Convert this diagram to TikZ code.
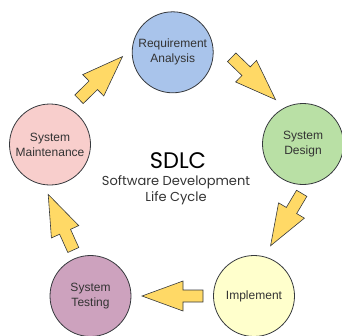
\documentclass[tikz,border=0pt]{standalone}
\usepackage{fontspec}
\setmainfont{Liberation Sans}
\newfontfamily\titlefont{Poppins}

\definecolor{reqblue}{HTML}{A9C4EB}
\definecolor{desgreen}{HTML}{B9E0A5}
\definecolor{impyellow}{HTML}{FFFFCC}
\definecolor{testpurple}{HTML}{CDA2BE}
\definecolor{maintpink}{HTML}{F8CECC}
\definecolor{arrowfill}{HTML}{FFD966}
\definecolor{edge}{HTML}{36393D}

\tikzset{phase/.style={circle, draw=edge, line width=0.8pt, minimum size=81pt, inner sep=0pt, align=center, font=\fontsize{12}{15}\selectfont, text=black!80}}
\tikzset{fatarrow/.style={fill=arrowfill, draw=edge, line width=0.6pt, line join=miter}}

% block arrow: tail point, direction
\newcommand{\cyclearrow}[2]{%
	\begin{scope}[shift={#1}, rotate=#2]
		\draw [fatarrow] (0,-6) -- (20,-6) -- (20,-15) -- (61,0) -- (20,15) -- (20,6) -- (0,6) -- cycle;
	\end{scope}}

\begin{document}
\begin{tikzpicture}[x=1pt, y=-1pt]
	\useasboundingbox (0,0) rectangle (342,335);
	\node [phase, fill=reqblue] (req) at (172.7,52.3) {Requirement\\Analysis};
	\node [phase, fill=desgreen] (design) at (303,144) {System\\Design};
	\node [phase, fill=impyellow] (impl) at (254,296) {Implement};
	\node [phase, fill=testpurple] (test) at (90.5,296) {System\\Testing};
	\node [phase, fill=maintpink] (maint) at (50,144.5) {System\\Maintenance};

	\node [inner sep=0pt] (sdlc) at (178,161) {\titlefont\fontsize{22.5}{26}\selectfont SDLC};
	\node [inner sep=0pt, align=center, text=black!80, font=\titlefont\fontsize{13}{16}\selectfont] (sub) at (176,190) {Software Development\\Life Cycle};

	\coordinate (maint-req) at (79,99.3);
	\coordinate (req-design) at (231.7,57.3);
	\coordinate (design-impl) at (301.7,193.3);
	\coordinate (impl-test) at (203,296);
	\coordinate (test-maint) at (73.3,250);
	\cyclearrow{(maint-req)}{44.5}
	\cyclearrow{(req-design)}{-44}
	\cyclearrow{(design-impl)}{-120.7}
	\cyclearrow{(impl-test)}{180}
	\cyclearrow{(test-maint)}{114.3}

\end{tikzpicture}
\end{document}
